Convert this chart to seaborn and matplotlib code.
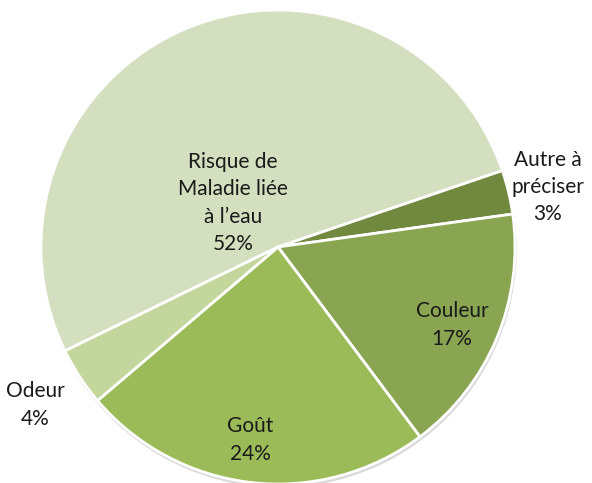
import matplotlib
matplotlib.use("Agg")
import matplotlib.pyplot as plt
import seaborn as sns
from matplotlib.patches import Circle

labels = ["Risque de\nMaladie liée\nà l\u2019eau", "Autre à\npréciser", "Couleur", "Goût", "Odeur"]
values = [52, 3, 17, 24, 4]
colors = ["#d3dfbf", "#71893f", "#8aa552", "#9bbb59", "#c3d69b"]
label_pos = [(-0.19, 0.186), (1.139, 0.253), (0.734, -0.329), (-0.118, -0.814), (-1.025, -0.667)]

sns.set_theme(style="white")
plt.rcParams["font.family"] = ["Lato", "DejaVu Sans"]

fig = plt.figure(figsize=(5.92, 4.83), dpi=100)
ax = fig.add_axes([0, 0, 1, 1])

# faint shadow under the pie
ax.add_patch(Circle((0.004, -0.012), 1.0, color="#d9d9d9", zorder=0))

ax.pie(values, colors=colors, startangle=206, counterclock=False,
       wedgeprops=dict(edgecolor="white", linewidth=2), radius=1.0)

for lab, v, (x, y) in zip(labels, values, label_pos):
    ax.text(x, y, f"{lab}\n{v}%", ha="center", va="center", fontsize=15,
            color="#1a1a1a", linespacing=1.45)

ax.set_xlim(-278 / 237, (592 - 278) / 237)
ax.set_ylim(-(483 - 247) / 237, 247 / 237)
ax.set_aspect("equal")
ax.axis("off")

fig.savefig("out.png", dpi=100)
